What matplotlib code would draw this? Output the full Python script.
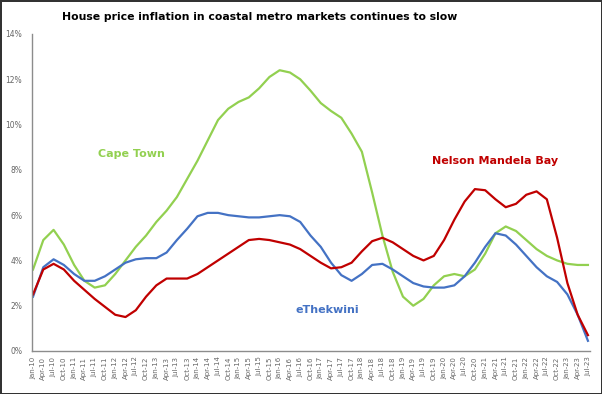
import matplotlib.pyplot as plt
from matplotlib.ticker import PercentFormatter

# quarterly labels Jan-10 .. Jul-23
months = ["Jan", "Apr", "Jul", "Oct"]
quarters = [f"{m}-{y:02d}" for y in range(10, 24) for m in months][:55]

cape_town = [3.6, 4.9, 5.35, 4.7, 3.8, 3.1, 2.8, 2.9, 3.4, 4.0,
             4.6, 5.1, 5.7, 6.2, 6.8, 7.6, 8.4, 9.3, 10.2, 10.7,
             11.0, 11.2, 11.6, 12.1, 12.4, 12.3, 12.0, 11.5, 10.95, 10.6,
             10.3, 9.6, 8.8, 7.0, 5.1, 3.5, 2.4, 2.0, 2.3, 2.9,
             3.3, 3.4, 3.3, 3.6, 4.3, 5.2, 5.5, 5.3, 4.9, 4.5,
             4.2, 4.0, 3.85, 3.8, 3.8]
ethekwini = [2.4, 3.7, 4.05, 3.8, 3.4, 3.1, 3.1, 3.3, 3.6, 3.9,
             4.05, 4.1, 4.1, 4.35, 4.9, 5.4, 5.95, 6.1, 6.1, 6.0,
             5.95, 5.9, 5.9, 5.95, 6.0, 5.95, 5.7, 5.1, 4.6, 3.9,
             3.35, 3.1, 3.4, 3.8, 3.85, 3.6, 3.3, 3.0, 2.85, 2.8,
             2.8, 2.9, 3.3, 3.9, 4.6, 5.2, 5.1, 4.7, 4.2, 3.7,
             3.3, 3.05, 2.5, 1.6, 0.45]
nelson_mandela_bay = [2.5, 3.6, 3.85, 3.6, 3.1, 2.7, 2.3, 1.95, 1.6, 1.5,
                      1.8, 2.4, 2.9, 3.2, 3.2, 3.2, 3.4, 3.7, 4.0, 4.3,
                      4.6, 4.9, 4.95, 4.9, 4.8, 4.7, 4.5, 4.2, 3.9, 3.65,
                      3.7, 3.9, 4.4, 4.85, 5.0, 4.8, 4.5, 4.2, 4.0, 4.2,
                      4.9, 5.8, 6.6, 7.15, 7.1, 6.7, 6.35, 6.5, 6.9, 7.05,
                      6.7, 5.0, 3.0, 1.6, 0.7]

GREEN = "#92D050"
BLUE = "#4472C4"
RED = "#C00000"

fig = plt.figure(figsize=(6.02, 3.94), dpi=100)
fig.patch.set_edgecolor("#333333")
fig.patch.set_linewidth(2)
ax = fig.add_axes([32 / 602, 1 - 351 / 394, (590 - 32) / 602, (351 - 34) / 394])

x = list(range(len(quarters)))
ax.plot(x, cape_town, color=GREEN, lw=1.6)
ax.plot(x, ethekwini, color=BLUE, lw=1.6)
ax.plot(x, nelson_mandela_bay, color=RED, lw=1.6)

ax.set_xlim(-0.1, 54.2)
ax.set_ylim(0, 14)
ax.set_yticks(range(0, 15, 2))
ax.yaxis.set_major_formatter(PercentFormatter(decimals=0))
ax.set_xticks(x)
ax.set_xticklabels(quarters, rotation=90)
ax.tick_params(axis="both", length=0, colors="#666666", labelsize=5)
ax.tick_params(axis="y", pad=7, labelsize=5.5)
ax.tick_params(axis="x", pad=4)
for s in ["top", "right"]:
    ax.spines[s].set_visible(False)
for s in ["left", "bottom"]:
    ax.spines[s].set_color("#8c8c8c")
    ax.spines[s].set_linewidth(1)

ax.text(9.6, 8.7, "Cape Town", color=GREEN, fontsize=8, fontweight="bold",
        ha="center", va="center")
ax.text(45.0, 8.4, "Nelson Mandela Bay", color=RED, fontsize=8, fontweight="bold",
        ha="center", va="center")
ax.text(28.6, 1.8, "eThekwini", color=BLUE, fontsize=8, fontweight="bold",
        ha="center", va="center")

fig.text(260 / 602, 1 - 17 / 394, "House price inflation in coastal metro markets continues to slow",
         ha="center", va="center", fontsize=7.8, fontweight="bold")

fig.savefig("out.png", dpi=100)
